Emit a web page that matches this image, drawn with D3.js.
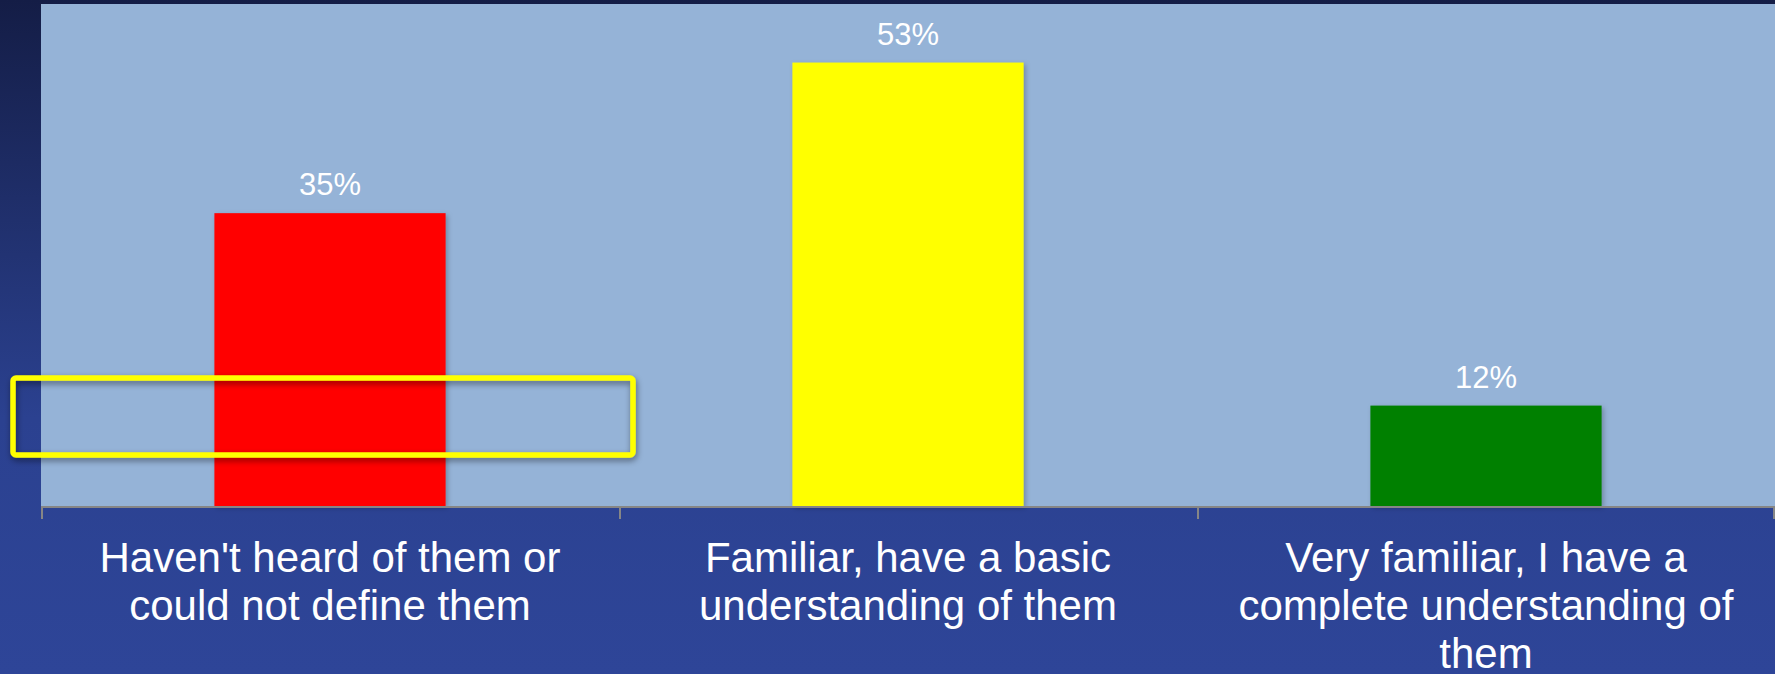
<!DOCTYPE html>
<html>
<head>
<meta charset="utf-8">
<script src="https://cdn.jsdelivr.net/npm/d3@7"></script>
<style>
  html, body { margin: 0; padding: 0; background: #2d4496; }
  svg { display: block; }
</style>
</head>
<body>
<svg id="chart" width="1775" height="674"></svg>
<script>
// Survey: familiarity with the topic
const categories = [
  "Haven't heard of them or could not define them",
  "Familiar, have a basic understanding of them",
  "Very familiar, I have a complete understanding of them"
];
const categoryLines = [
  ["Haven't heard of them or", "could not define them"],
  ["Familiar, have a basic", "understanding of them"],
  ["Very familiar, I have a", "complete understanding of", "them"]
];
const values = [35, 53, 12];
const barColors = ["#ff0000", "#ffff00", "#008000"];
const yDomain = [0, 60];

const W = 1775, H = 674;
const plot = { left: 41, right: 1775, top: 4, bottom: 506 };

const svg = d3.select("#chart");
const defs = svg.append("defs");

// Slide background
const bg = defs.append("linearGradient")
  .attr("id", "bgGrad").attr("x1", 0).attr("y1", 0).attr("x2", 0).attr("y2", 1);
bg.append("stop").attr("offset", "0").attr("stop-color", "#141d46");
bg.append("stop").attr("offset", "0.62").attr("stop-color", "#2b4190");
bg.append("stop").attr("offset", "1").attr("stop-color", "#2e4598");

const shadow = defs.append("filter").attr("id", "barShadow")
  .attr("x", "-10%").attr("y", "-10%").attr("width", "130%").attr("height", "130%");
shadow.append("feDropShadow")
  .attr("dx", 2).attr("dy", 2).attr("stdDeviation", 2.5)
  .attr("flood-color", "#000").attr("flood-opacity", 0.25);

const boxShadow = defs.append("filter").attr("id", "boxShadow")
  .attr("x", "-10%").attr("y", "-30%").attr("width", "120%").attr("height", "160%");
boxShadow.append("feDropShadow")
  .attr("dx", 1).attr("dy", 3).attr("stdDeviation", 3)
  .attr("flood-color", "#000").attr("flood-opacity", 0.45);

svg.append("rect").attr("width", W).attr("height", H).attr("fill", "url(#bgGrad)");

// Scales
const x = d3.scaleBand().domain(categories).range([plot.left, plot.right]).padding(0);
const y = d3.scaleLinear().domain(yDomain).range([plot.bottom, plot.top]);
const barW = x.bandwidth() * 0.4;

// Plot area
svg.append("rect")
  .attr("x", plot.left).attr("y", y(yDomain[1]))
  .attr("width", plot.right - plot.left).attr("height", y(yDomain[0]) - y(yDomain[1]))
  .attr("fill", "#95b3d7");

// Bars
svg.append("g").selectAll("rect")
  .data(values)
  .join("rect")
  .attr("x", (d, i) => x(categories[i]) + (x.bandwidth() - barW) / 2)
  .attr("y", d => y(d))
  .attr("width", barW)
  .attr("height", d => y(0) - y(d))
  .attr("fill", (d, i) => barColors[i])
  .attr("filter", "url(#barShadow)");

// Value labels
svg.append("g").selectAll("text")
  .data(values)
  .join("text")
  .attr("x", (d, i) => x(categories[i]) + x.bandwidth() / 2)
  .attr("y", d => y(d) - 18)
  .attr("text-anchor", "middle")
  .attr("fill", "#ffffff")
  .attr("font-family", "Liberation Sans, Arial, sans-serif")
  .attr("font-size", 31)
  .text(d => d + "%");

// Category axis: baseline and ticks at band boundaries
const axis = svg.append("g");
axis.append("line")
  .attr("x1", plot.left).attr("x2", plot.right)
  .attr("y1", y(0) + 1).attr("y2", y(0) + 1)
  .attr("stroke", "#868686").attr("stroke-width", 2);
const edges = categories.map(c => x(c)).concat([x(categories[categories.length - 1]) + x.bandwidth()]);
axis.selectAll("line.tick")
  .data(edges)
  .join("line")
  .attr("class", "tick")
  .attr("x1", d => Math.min(d + 1, W - 1)).attr("x2", d => Math.min(d + 1, W - 1))
  .attr("y1", y(0)).attr("y2", y(0) + 13)
  .attr("stroke", "#868686").attr("stroke-width", 2);

// Category labels
const labels = svg.append("g")
  .attr("fill", "#ffffff")
  .attr("font-family", "Liberation Sans, Arial, sans-serif")
  .attr("font-size", 42)
  .attr("text-anchor", "middle");
categoryLines.forEach((lines, i) => {
  const t = labels.append("text")
    .attr("x", x(categories[i]) + x.bandwidth() / 2)
    .attr("y", 572);
  lines.forEach((ln, j) => {
    t.append("tspan")
      .attr("x", x(categories[i]) + x.bandwidth() / 2)
      .attr("y", 572 + j * 48)
      .text(ln);
  });
});

// Highlight box
svg.append("rect")
  .attr("x", 13).attr("y", 378)
  .attr("width", 620).attr("height", 77)
  .attr("rx", 3).attr("ry", 3)
  .attr("fill", "none")
  .attr("stroke", "#ffff00")
  .attr("stroke-width", 5.5)
  .attr("filter", "url(#boxShadow)");
</script>
</body>
</html>
